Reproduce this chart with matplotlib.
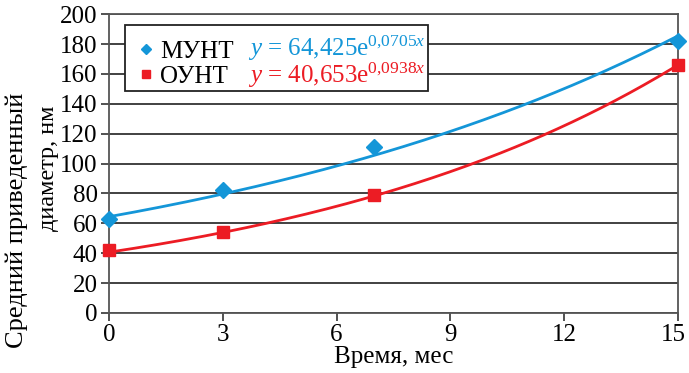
import numpy as np
import matplotlib
matplotlib.use("Agg")
import matplotlib.pyplot as plt
import matplotlib.transforms as mtransforms
from matplotlib.patches import Rectangle

plt.rcParams['font.family'] = ['Liberation Serif', 'DejaVu Serif']
plt.rcParams['mathtext.fontset'] = 'custom'
plt.rcParams['mathtext.rm'] = 'Liberation Serif'
plt.rcParams['mathtext.it'] = 'Liberation Serif:italic'

# data
months = [0, 3, 7, 15]
munt = [63, 82, 111, 182]
ount = [42, 54, 79, 166]
# trend coefficients (y = a * exp(b * x))
munt_a, munt_b = 64.425, 0.0705
ount_a, ount_b = 40.653, 0.0938

blue = "#1496d8"
red = "#ec1c24"
grid_c = "#333333"

fig = plt.figure(figsize=(6.89, 3.73), dpi=100)
ax = fig.add_axes([0.158, 0.161, 0.826, 0.801])

ax.set_xlim(0, 15)
ax.set_ylim(0, 200)
ax.set_xticks(np.arange(0, 16, 3))
ax.set_yticks(np.arange(0, 201, 20))
ax.grid(axis='y', color=grid_c, linewidth=1.3)
ax.set_axisbelow(True)
for s in ax.spines.values():
    s.set_color("#555555")
    s.set_linewidth(1.3)
ax.tick_params(axis='both', labelsize=18, color="#333333", width=1.2, length=6, pad=2)
# last x label sits right at the figure edge, nudge it a bit
lab = ax.get_xticklabels()[-1]
lab.set_transform(lab.get_transform() + mtransforms.ScaledTranslation(-3 / 72, 0, fig.dpi_scale_trans))

xs = np.linspace(0, 15, 200)
ax.plot(xs, munt_a * np.exp(munt_b * xs), color=blue, lw=2.0, clip_on=False)
ax.plot(xs, ount_a * np.exp(ount_b * xs), color=red, lw=2.0, clip_on=False)
ax.plot(months, munt, 'D', color=blue, ms=8, ls='none', clip_on=False, zorder=5, label="МУНТ")
ax.plot(months, ount, 's', color=red, ms=8.5, ls='none', clip_on=False, zorder=5, label="ОУНТ")

ax.set_xlabel("Время, мес", fontsize=18, labelpad=0)
fig.text(0.025, 0.41, "Средний приведенный", rotation=90, fontsize=19,
         ha='center', va='center')
fig.text(0.07, 0.55, "диаметр, нм", rotation=90, fontsize=17.5,
         ha='center', va='center')

# legend box
ax.add_patch(Rectangle((0.028, 0.742), 0.532, 0.221, transform=ax.transAxes,
                       facecolor='white', edgecolor='#222222', lw=1.3, zorder=6))
leg = ax.legend(loc='upper left', bbox_to_anchor=(0.02, 0.978), frameon=False,
                fontsize=18, handlelength=0.5, handletextpad=0.3, labelspacing=0.1,
                borderpad=0.3, markerscale=0.65)
leg.set_zorder(7)
ax.text(0.245, 0.886, r"$y$ = 64,425e$^{0{,}0705\mathit{x}}$", transform=ax.transAxes,
        color=blue, fontsize=18, va='center', zorder=8)
ax.text(0.245, 0.796, r"$y$ = 40,653e$^{0{,}0938\mathit{x}}$", transform=ax.transAxes,
        color=red, fontsize=18, va='center', zorder=8)

fig.savefig("out.png", dpi=100)
